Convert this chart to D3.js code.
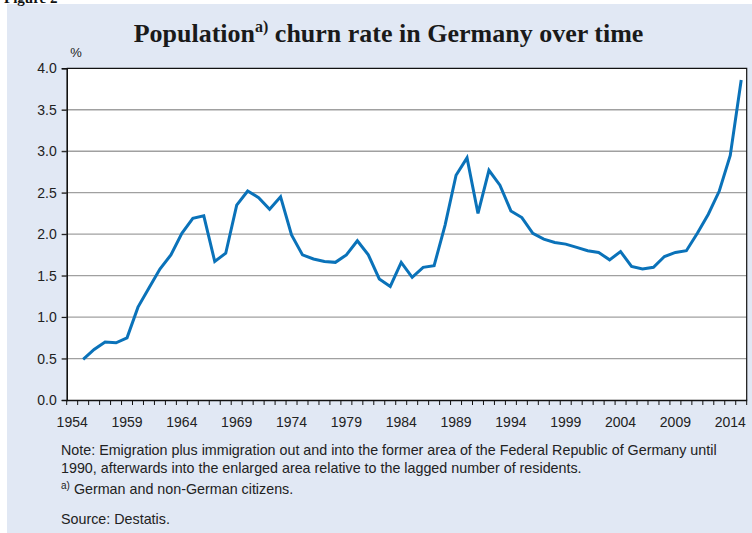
<!DOCTYPE html>
<html>
<head>
<meta charset="utf-8">
<script src="https://cdn.jsdelivr.net/npm/d3@7/dist/d3.min.js"></script>
<style>
html,body{margin:0;padding:0;background:#fff;}
svg{display:block;}
</style>
</head>
<body>
<svg id="chart" width="752" height="533"></svg>
<script>
const years = d3.range(1955, 2016);
const churnRate = [
  0.49, 0.61, 0.70, 0.69, 0.75, 1.12, 1.35, 1.58, 1.75, 2.01,
  2.19, 2.22, 1.67, 1.77, 2.35, 2.52, 2.44, 2.30, 2.45, 1.99,
  1.75, 1.70, 1.67, 1.66, 1.75, 1.92, 1.75, 1.46, 1.37, 1.66,
  1.48, 1.60, 1.62, 2.11, 2.71, 2.92, 2.25, 2.77, 2.59, 2.28,
  2.20, 2.01, 1.94, 1.90, 1.88, 1.84, 1.80, 1.78, 1.69, 1.79,
  1.61, 1.58, 1.60, 1.73, 1.78, 1.80, 2.01, 2.24, 2.52, 2.95,
  3.86
];
const axisYears = d3.range(1954, 2016);
const xTickLabels = [1954, 1959, 1964, 1969, 1974, 1979, 1984, 1989, 1994, 1999, 2004, 2009, 2014];
const yTicks = [0, 0.5, 1, 1.5, 2, 2.5, 3, 3.5, 4];
const titleMain = "Population";
const titleSup = "a)";
const titleRest = " churn rate in Germany over time";
const noteLines = [
  "Note: Emigration plus immigration out and into the former area of the Federal Republic of Germany until",
  "1990, afterwards into the enlarged area relative to the lagged number of residents."
];
const footSup = "a)";
const footText = " German and non-German citizens.";
const sourceText = "Source: Destatis.";

(function () {
const svg = d3.select("#chart");
const sans = "'Liberation Sans', Arial, sans-serif";
const serif = "'Liberation Serif', 'Times New Roman', serif";

svg.append("rect").attr("x", 7).attr("y", 4).attr("width", 745).attr("height", 529).attr("fill", "#e1e8f4");

svg.append("text").attr("x", 4).attr("y", 3).attr("font-family", serif).attr("font-weight", "bold")
  .attr("font-size", 15).attr("fill", "#111").text("Figure 2");

const pl = 66.7, pr = 746.7, pt = 68.3, pb = 400;

const x = d3.scaleBand().domain(axisYears).range([pl, pr]).paddingInner(0).paddingOuter(0);
const y = d3.scaleLinear().domain([0, 4]).range([pb, pt]);

svg.append("rect").attr("x", pl).attr("y", pt).attr("width", pr - pl).attr("height", pb - pt).attr("fill", "#fff");

svg.append("g").selectAll("line").data(yTicks.filter(d => d > 0 && d < 4)).join("line")
  .attr("x1", pl - 5).attr("x2", pr).attr("y1", d => y(d)).attr("y2", d => y(d))
  .attr("stroke", "#a0a0a0").attr("stroke-width", 1.3);

svg.append("path").attr("d", `M${pl},${pt}H${pr}V${pb}`).attr("fill", "none").attr("stroke", "#111").attr("stroke-width", 1.2);

const yAxis = d3.axisLeft(y).tickValues(yTicks).tickFormat(d3.format(".1f")).tickSize(5).tickPadding(5);
const gy = svg.append("g").attr("transform", `translate(${pl},0)`).call(yAxis);
gy.select(".domain").attr("stroke", "#111").attr("stroke-width", 1.6);
gy.selectAll(".tick line").attr("stroke", "#111");
gy.selectAll(".tick text").attr("font-family", sans).attr("font-size", 14).attr("fill", "#222");

const xAxis = d3.axisBottom(x).tickValues([]).tickSizeOuter(0);
const gx = svg.append("g").attr("transform", `translate(0,${pb})`).call(xAxis);
gx.select(".domain").attr("stroke", "#111").attr("stroke-width", 1.6);
const boundaries = axisYears.map(d => x(d)).concat([pr]);
gx.selectAll("line.tk").data(boundaries).join("line").attr("class", "tk")
  .attr("x1", d => d).attr("x2", d => d).attr("y1", 0).attr("y2", 5).attr("stroke", "#111").attr("stroke-width", 1);
gx.selectAll("text.lb").data(xTickLabels).join("text").attr("class", "lb")
  .attr("x", d => x(d) + x.bandwidth() / 2).attr("y", 27).attr("text-anchor", "middle")
  .attr("font-family", sans).attr("font-size", 14).attr("fill", "#222").text(d => d);

const line = d3.line().x((d, i) => x(years[i]) + x.bandwidth() / 2).y(d => y(d));
svg.append("path").datum(churnRate).attr("d", line).attr("fill", "none")
  .attr("stroke", "#0a72b9").attr("stroke-width", 3).attr("stroke-linejoin", "miter");

svg.append("text").attr("x", 76).attr("y", 57).attr("text-anchor", "middle").attr("font-family", sans)
  .attr("font-size", 13).attr("fill", "#222").text("%");

const t = svg.append("text").attr("x", 388.5).attr("y", 42).attr("text-anchor", "middle")
  .attr("font-family", serif).attr("font-weight", "bold").attr("font-size", 26).attr("fill", "#1a1a1a");
t.append("tspan").text(titleMain);
t.append("tspan").attr("font-size", 16).attr("dy", -10).text(titleSup);
t.append("tspan").attr("dy", 10).text(titleRest);

const notes = svg.append("g").attr("font-family", sans).attr("font-size", 14.3).attr("fill", "#222");
noteLines.forEach((s, i) => notes.append("text").attr("x", 61).attr("y", 455 + i * 18.3).text(s));
const f = notes.append("text").attr("x", 61).attr("y", 493.5);
f.append("tspan").attr("font-size", 10).attr("dy", -5).text(footSup);
f.append("tspan").attr("dy", 5).text(footText);
notes.append("text").attr("x", 61).attr("y", 523.5).text(sourceText);
})();
</script>
</body>
</html>
